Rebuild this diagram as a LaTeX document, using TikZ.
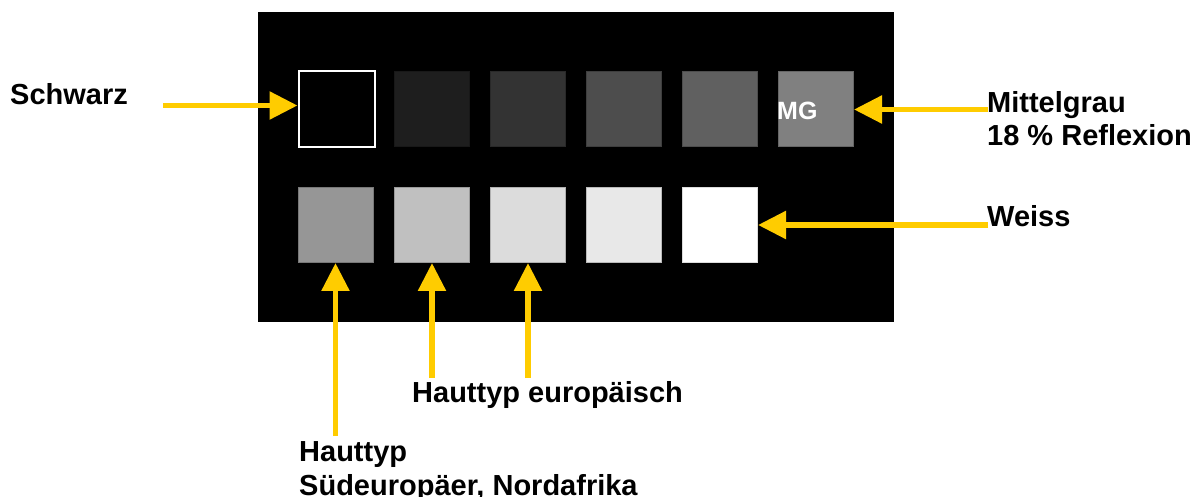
\documentclass[tikz,border=0pt]{standalone}
\usepackage{fontspec}
\setmainfont{Liberation Sans}
\usetikzlibrary{arrows.meta}
\definecolor{arrowyellow}{HTML}{FFCC00}
\definecolor{g2}{HTML}{1E1E1E}
\definecolor{g3}{HTML}{333333}
\definecolor{g4}{HTML}{4D4D4D}
\definecolor{g5}{HTML}{606060}
\definecolor{g6}{HTML}{808080}
\definecolor{g7}{HTML}{969696}
\definecolor{g8}{HTML}{C0C0C0}
\definecolor{g9}{HTML}{DCDCDC}
\definecolor{g10}{HTML}{E8E8E8}
\tikzset{
  patch/.style={minimum size=75pt, inner sep=0pt, draw=#1!80!black, line width=1pt, fill=#1},
  yarrow/.style={draw=arrowyellow, line width=5.5pt,
    -{Triangle[width=27pt,length=28pt,fill=arrowyellow]}},
  lbl/.style={inner sep=0pt, anchor=base west, align=left,
    font=\fontsize{29}{33.5}\selectfont\bfseries}
}
\begin{document}
\begin{tikzpicture}[x=1pt,y=-1pt]
\useasboundingbox[fill=white] (0,0) rectangle (1200,497);
% black card carrying the grey patches
\fill[black] (258,12.5) rectangle (893.5,322);
% top row: black to middle grey
\node[minimum size=76pt, inner sep=0pt, draw=white, line width=2pt, fill=black] (s1) at (336.5,109.5) {};
\node[patch=g2] (s2) at (432,109.5) {};
\node[patch=g3] (s3) at (528,109.5) {};
\node[patch=g4] (s4) at (624,109.5) {};
\node[patch=g5] (s5) at (720,109.5) {};
\node[patch=g6] (s6) at (816,109.5) {};
% bottom row: light greys to white
\node[patch=g7] (b1) at (335.5,225) {};
\node[patch=g8] (b2) at (432,225) {};
\node[patch=g9] (b3) at (528,225) {};
\node[patch=g10] (b4) at (624,225) {};
\node[minimum size=75pt, inner sep=0pt, draw=g9, line width=1pt, fill=white] (b5) at (720,225) {};
\node[inner sep=0pt, anchor=base west, text=white, font=\fontsize{25}{25}\selectfont\bfseries] (mg) at (777,120) {MG};
% labels (multi-line labels sit on the baseline of their last line)
\node[lbl] (schwarz) at (10,105) {Schwarz};
\node[lbl] (mittel) at (987,145.7) {Mittelgrau\\18 \% Reflexion};
\node[lbl] (weiss) at (987,227) {Weiss};
\node[lbl] (europ) at (412,402) {Hauttyp europäisch};
\node[lbl] (sued) at (299,495) {Hauttyp\\Südeuropäer, Nordafrika};
% arrow tails
\coordinate (aS) at (163,105.5);
\coordinate (aM) at (988,109.5);
\coordinate (aW) at (988,225);
\coordinate (a1) at (335.5,436);
\coordinate (a2) at (432,378);
\coordinate (a3) at (528,378);
% arrows
\draw[yarrow] (aS) -- (aS -| s1.west);
\draw[yarrow] (aM) -- (aM -| s6.east);
\draw[yarrow] (aW) -- (aW -| b5.east);
\draw[yarrow] (a1) -- (a1 |- b1.south);
\draw[yarrow] (a2) -- (a2 |- b2.south);
\draw[yarrow] (a3) -- (a3 |- b3.south);
\end{tikzpicture}
\end{document}
